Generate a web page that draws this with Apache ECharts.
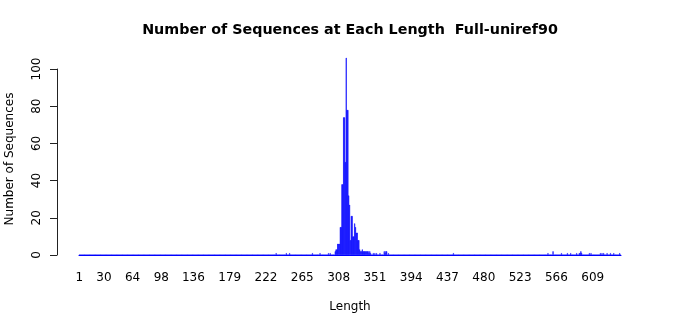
<!DOCTYPE html>
<html>
<head>
<meta charset="utf-8">
<script src="https://cdn.jsdelivr.net/npm/echarts@6/dist/echarts.min.js"></script>
<style>html,body{margin:0;padding:0;background:#fff;overflow:hidden;}#chart{width:700px;height:315px;}</style>
</head>
<body>
<div id="chart"></div>
<script>
// Data
const maxLength = 642;
const observedLengths = [234, 246, 250, 277, 286, 296, 298,
  304, 305, 306, 307, 308, 309, 310, 311, 312, 313, 314, 315, 316, 317, 318, 319, 320,
  321, 322, 323, 324, 325, 326, 327, 328, 329, 330, 331, 332, 333, 334, 335, 336, 337,
  338, 339, 340, 341, 342, 343, 344, 345, 346, 349, 351, 353, 357, 362, 363, 364, 365, 367,
  444, 556, 562, 572, 579, 583, 590, 593, 594, 595, 596, 605, 607, 618, 620, 622, 626, 630, 634, 641];
const observedCounts = [1, 1, 1, 1, 1, 1, 1,
  2, 3, 3, 6, 6, 6, 15, 15, 38, 38, 74, 74, 50, 106, 78, 78, 32,
  27, 8, 21, 21, 10, 10, 17, 15, 12, 12, 8, 8, 3, 2, 2, 3, 2,
  2, 2, 2, 2, 2, 2, 1, 2, 1, 1, 1, 1, 1, 2, 1, 2, 2, 1,
  1, 1, 2, 1, 1, 1, 1, 1, 1, 2, 1, 1, 1, 1, 1, 1, 1, 1, 1, 1];
const tickLabels = [1, 30, 64, 98, 136, 179, 222, 265, 308, 351, 394, 437, 480, 523, 566, 609];
const yTicks = [0, 20, 40, 60, 80, 100];

const categories = [];
for (let i = 1; i <= maxLength; i++) categories.push(String(i));
const countByLength = {};
observedLengths.forEach((l, i) => { countByLength[l] = observedCounts[i]; });
const counts = categories.map(c => countByLength[+c] || 0);
const tickSet = new Set(tickLabels.map(String));

const FONT = 'DejaVu Sans';
const chart = echarts.init(document.getElementById('chart'), null, {renderer: 'canvas', width: 700, height: 315});
chart.setOption({
  animation: false,
  title: {
    text: 'Number of Sequences at Each Length  Full-uniref90',
    left: 'center', top: 18,
    textStyle: {fontFamily: FONT, fontSize: 14.3, fontWeight: 'bold', color: '#000'}
  },
  grid: {left: 79, right: 79, top: 69, bottom: 60, containLabel: false, outerBoundsMode: 'none'},
  xAxis: {
    type: 'category', data: categories, boundaryGap: true,
    axisLine: {lineStyle: {color: '#0000ff', width: 1}},
    axisTick: {show: false},
    axisLabel: {
      interval: (idx, val) => tickSet.has(String(val)),
      margin: 17, fontFamily: FONT, fontSize: 12, color: '#000'
    },
    name: 'Length', nameLocation: 'middle', nameGap: 46,
    nameTextStyle: {fontFamily: FONT, fontSize: 12, color: '#000'}
  },
  yAxis: {
    type: 'value', min: yTicks[0], max: yTicks[yTicks.length - 1], interval: 20, offset: 22,
    axisLine: {show: true, lineStyle: {color: '#222', width: 1}},
    axisTick: {show: true, length: 7, lineStyle: {color: '#222'}},
    splitLine: {show: false},
    axisLabel: {rotate: 90, margin: 14, fontFamily: FONT, fontSize: 12, color: '#000'},
    name: 'Number of Sequences', nameLocation: 'middle', nameGap: 41,
    nameTextStyle: {fontFamily: FONT, fontSize: 12, color: '#000', padding: [0, 0, 0, 6]}
  },
  series: [{
    type: 'bar', data: counts, barCategoryGap: '0%', clip: false, silent: true,
    itemStyle: {color: '#0000ff', borderColor: '#0000ff', borderWidth: 0.5}
  }]
});
</script>
</body>
</html>
